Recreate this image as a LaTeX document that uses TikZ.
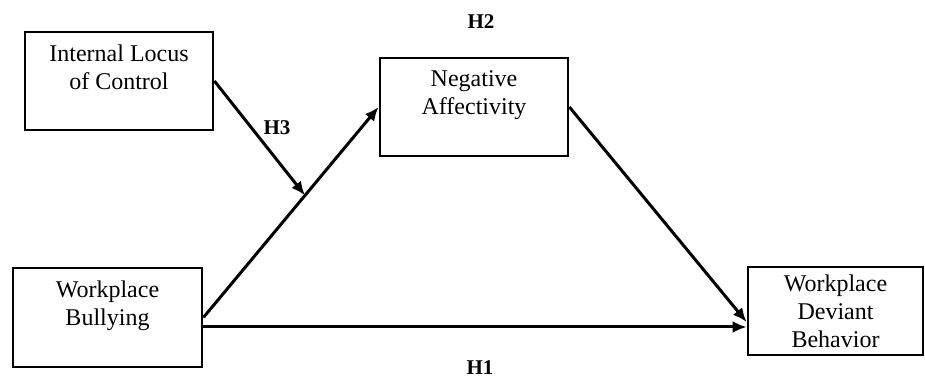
\documentclass[tikz,border=0pt]{standalone}
\usepackage{fontspec}
\setmainfont{Liberation Serif}
\usepackage{tikz}
\usetikzlibrary{arrows.meta,calc}

\begin{document}
\begin{tikzpicture}[
  x=0.5pt,y=-0.5pt,
  var/.style={rectangle,draw=black,line width=1.4pt,align=center,
    font=\fontsize{12}{14}\selectfont,inner sep=2pt},
  hyp/.style={font=\fontsize{10.5}{12}\selectfont\bfseries,inner sep=0pt},
  arr/.style={-{Latex[length=7pt,width=6pt]},black,line width=1.5pt}]
  \useasboundingbox (0,0) rectangle (925,378);
  \node[var,minimum width=94pt,minimum height=49pt] (ilc) at (119,81) {Internal Locus\\of Control\\~};
  \node[var,minimum width=94pt,minimum height=49pt] (na) at (474,107) {Negative\\Affectivity\\~};
  \node[var,minimum width=94.5pt,minimum height=49.5pt] (wb) at (107.5,317.5) {Workplace\\Bullying\\~};
  \node[var,minimum width=87.5pt,minimum height=44pt] (wdb) at (835.5,311) {Workplace\\Deviant\\Behavior};
  \node[hyp] (h1) at (480,368) {H1};
  \node[hyp] (h2) at (481,22) {H2};
  \node[hyp] (h3) at (277,128) {H3};
  % paths
  \path (wb.east) -- coordinate[pos=0.58] (mod) (na.west);
  \draw[arr] (wb.east) -- (na.west);
  \draw[arr] (ilc.east) -- (mod);
  \draw[arr] (na.east) -- ([yshift=-5.5pt]wdb.west);
  \draw[arr] ([yshift=-4.75pt]wb.east) -- ([yshift=-4.75pt]wb.east -| wdb.west);
\end{tikzpicture}
\end{document}
